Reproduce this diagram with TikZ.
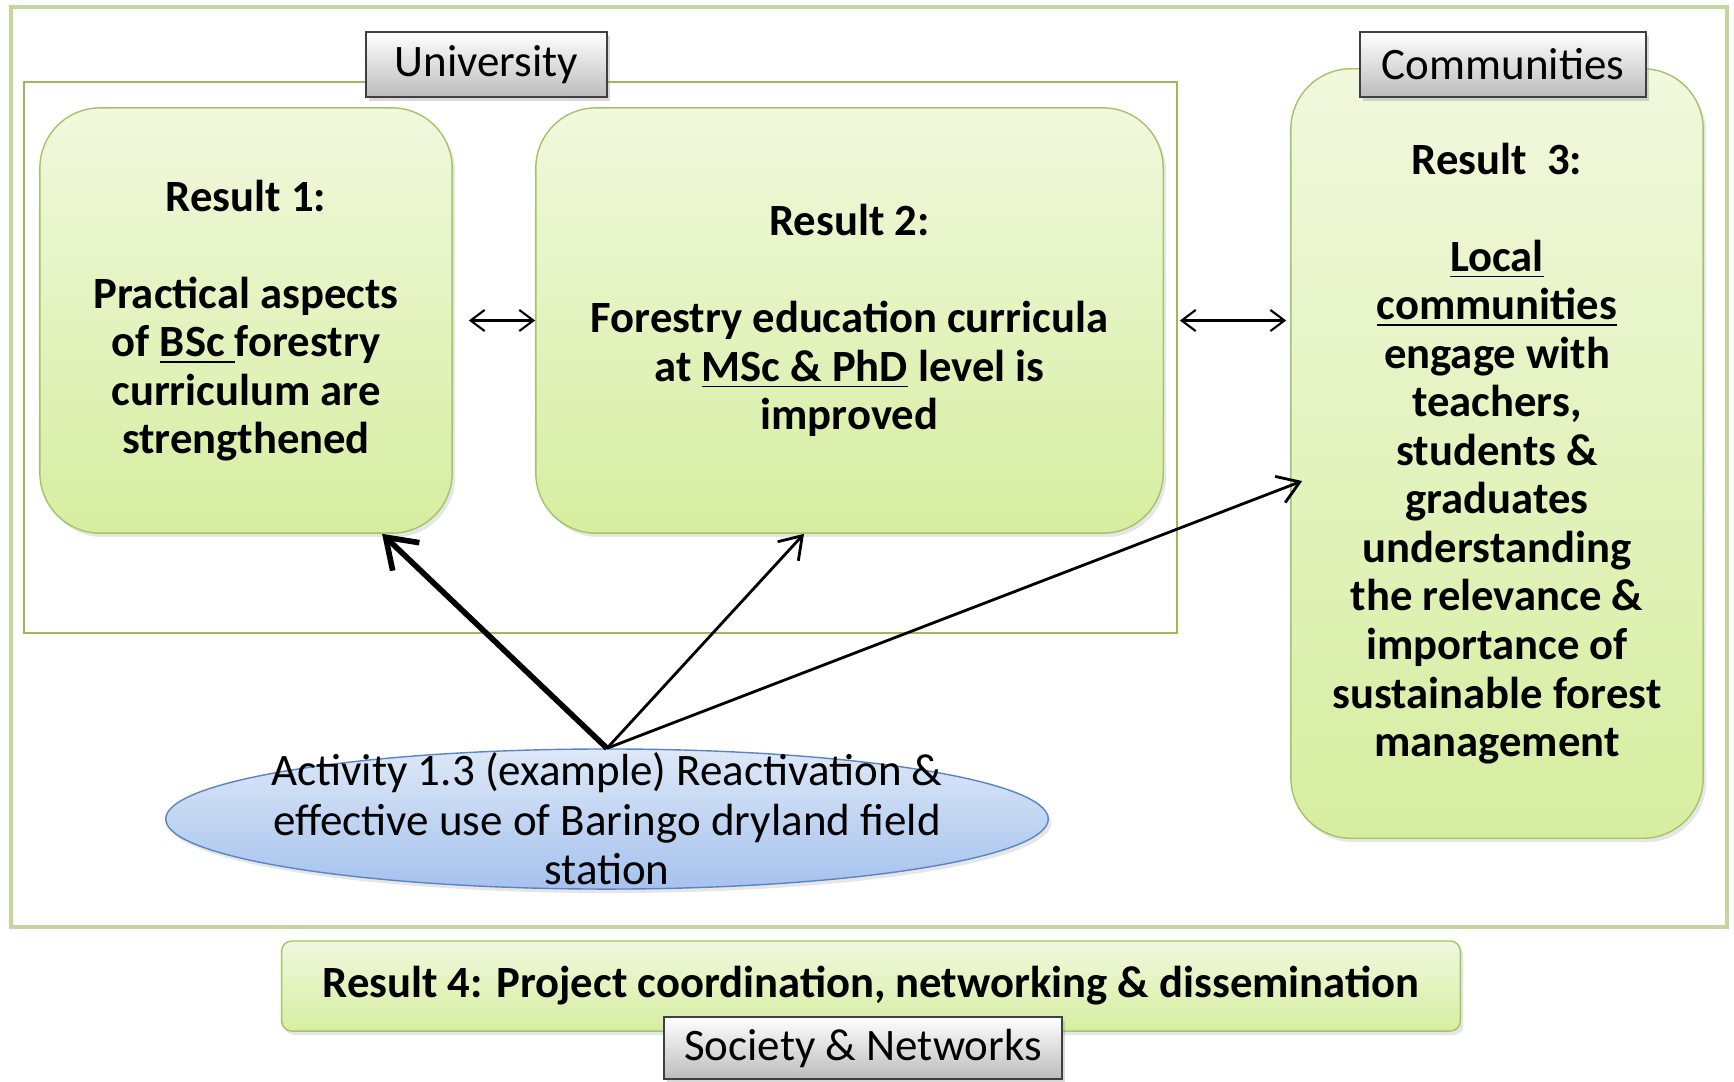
\documentclass[tikz,border=0pt]{standalone}
\usepackage{fontspec}
\setmainfont{Carlito}
\usetikzlibrary{arrows.meta,calc,shapes.geometric,shadows}

\definecolor{frameouter}{HTML}{C4D79B}
\definecolor{frameuni}{HTML}{9BBB59}
\definecolor{restop}{HTML}{F1F8DD}
\definecolor{resbot}{HTML}{D6EEA0}
\definecolor{resedge}{HTML}{A3C467}
\definecolor{tagbot}{HTML}{BCBCBC}
\definecolor{tagedge}{HTML}{3F3F3F}
\definecolor{acttop}{HTML}{DDE8F7}
\definecolor{actbot}{HTML}{A5C2EE}
\definecolor{actedge}{HTML}{5B84C4}

\begin{document}
\begin{tikzpicture}[
  x=0.01cm, y=-0.01cm,
  result/.style={draw=resedge, thin, rounded corners=0.6cm,
                 top color=restop, bottom color=resbot,
                 align=center, inner sep=0pt,
                 font=\bfseries\fontsize{12.7}{13.8}\selectfont,
                 drop shadow={shadow xshift=0.03cm, shadow yshift=-0.04cm, opacity=0.2}},
  tag/.style={draw=tagedge, thin, top color=white, bottom color=tagbot,
              inner sep=0pt, font=\fontsize{12.8}{14}\selectfont,
              drop shadow={shadow xshift=0.03cm, shadow yshift=-0.04cm, opacity=0.3}},
  activity/.style={ellipse, draw=actedge, thin, top color=acttop, bottom color=actbot,
                   inner sep=0pt,
                   drop shadow={shadow xshift=0.03cm, shadow yshift=-0.04cm, opacity=0.2}},
  biarr/.style={{Straight Barb[length=4pt,width=6pt]}-{Straight Barb[length=4pt,width=6pt]}, semithick},
  arr/.style={-{Straight Barb[length=6pt,width=8pt]}, line width=0.8pt},
  bigarr/.style={-{Straight Barb[length=8pt,width=11pt]}, line width=1.6pt},
]
\useasboundingbox (0,0) rectangle (1734,1081);

% ---- frames ----
\draw[frameouter, line width=0.9pt] (11,7) rectangle (1727,927);
\draw[frameuni, line width=0.6pt] (24,82) rectangle (1177,633);

% ---- results ----
\node[result, minimum width=4.12cm, minimum height=4.25cm] (r1) at (246,320.5)
  {Result 1:\\[13.8pt]Practical aspects\\of \underline{BSc\ }forestry\\curriculum are\\strengthened};
\node[result, minimum width=6.27cm, minimum height=4.25cm] (r2) at (849.5,320.5)
  {Result 2:\\[13.8pt]Forestry education curricula\\at \underline{MSc \& PhD} level is\\improved};
\node[result, minimum width=4.12cm, minimum height=7.69cm] (r3) at (1497,453.5)
  {Result\ \ 3:\\[13.8pt]\underline{Local}\\\underline{communities}\\engage with\\teachers,\\students \&\\graduates\\understanding\\the relevance \&\\importance of\\sustainable forest\\management};
\node[result, rounded corners=0.1cm, minimum width=11.78cm, minimum height=0.90cm] (r4) at (871,986)
  {Result 4: Project coordination, networking \& dissemination};

% ---- activity ----
\node[activity, minimum width=8.82cm, minimum height=1.40cm] (act) at (607,819) {};
\node[align=center, font=\fontsize{12.8}{14.1}\selectfont] (acttxt) at (act.center)
  {Activity 1.3 (example) Reactivation \&\\effective use of Baringo dryland field\\station};

% ---- tags ----
\node[tag, minimum width=2.41cm, minimum height=0.65cm] (uni) at (486.5,64.5) {University};
\node[tag, minimum width=2.86cm, minimum height=0.65cm] (com) at (1503,64.5) {Communities};
\node[tag, minimum width=3.98cm, minimum height=0.62cm] (soc) at (863,1048) {Society \& Networks};

% ---- edges ----
\draw[biarr, shorten <=0.16cm] (r1.east) -- (r2.west);
\draw[biarr, shorten <=0.16cm, shorten >=0.04cm] (r2.east) -- (r2.east -| r3.west);
\draw[bigarr] (act.north) -- ([xshift=1.36cm]r1.south);
\draw[arr] (act.north) -- ([xshift=-0.455cm]r2.south);
\draw[arr] (act.north) -- ([xshift=0.12cm,yshift=-0.275cm]r3.west);
\end{tikzpicture}
\end{document}
